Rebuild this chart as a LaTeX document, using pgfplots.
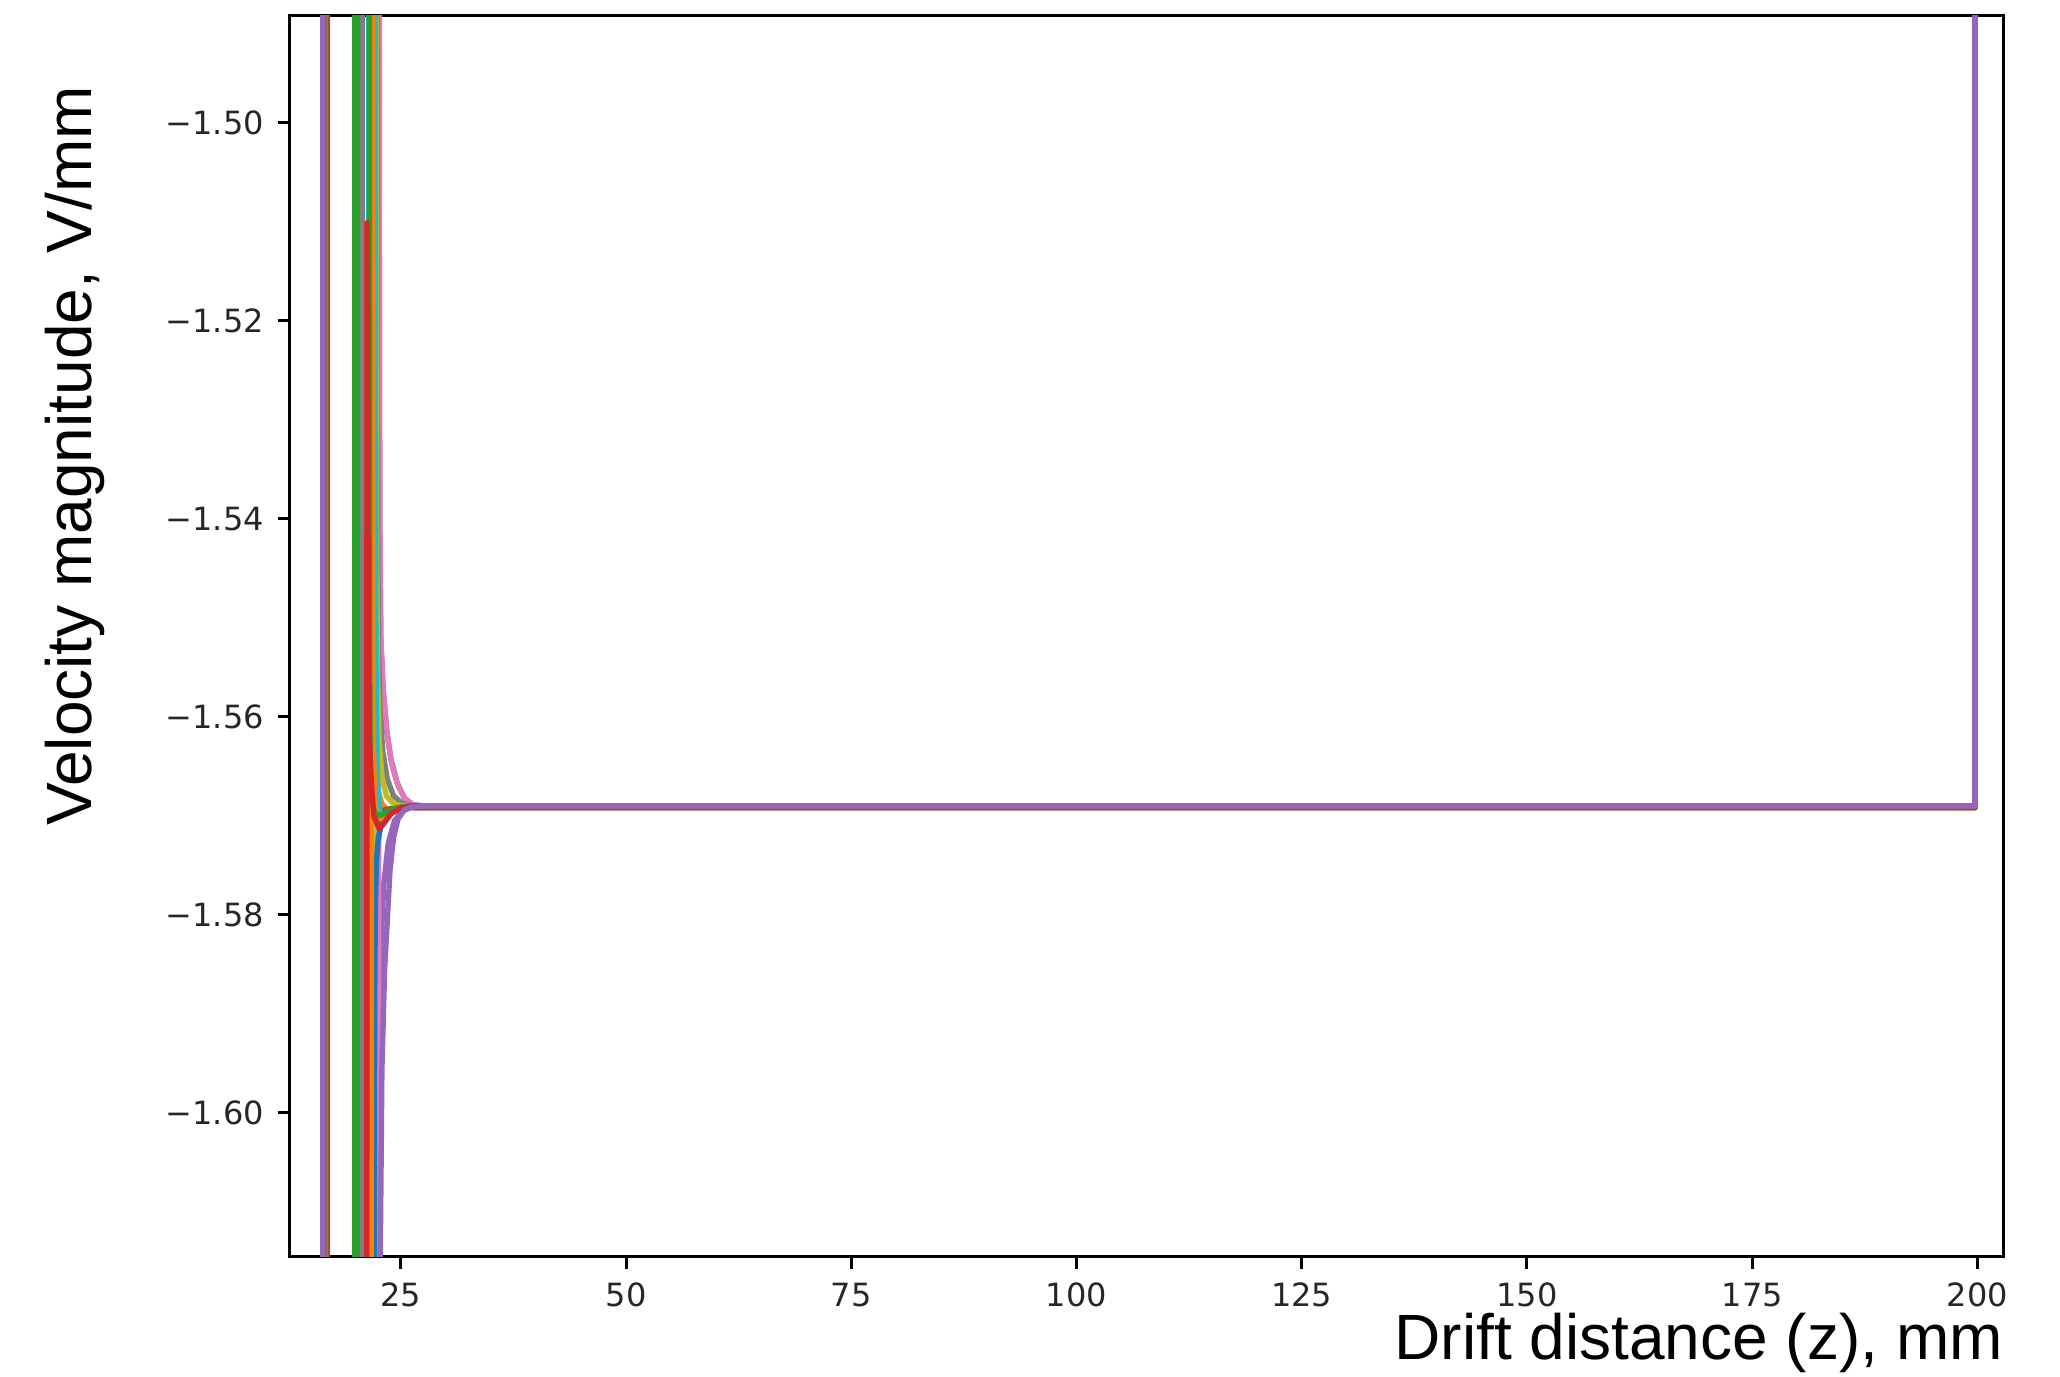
\documentclass[border=0pt]{standalone}
\usepackage{fontspec}
\setmainfont{Liberation Sans}
\newfontfamily\tickfont{DejaVu Sans}
\usepackage{pgfplots}
\pgfplotsset{compat=1.18}
\definecolor{C0}{HTML}{1F77B4}
\definecolor{C1}{HTML}{FF7F0E}
\definecolor{C2}{HTML}{2CA02C}
\definecolor{C3}{HTML}{D62728}
\definecolor{C4}{HTML}{9467BD}
\definecolor{C5}{HTML}{8C564B}
\definecolor{C6}{HTML}{E377C2}
\definecolor{C7}{HTML}{7F7F7F}
\definecolor{C8}{HTML}{BCBD22}
\definecolor{C9}{HTML}{17BECF}
\begin{document}
\begin{tikzpicture}
\path[use as bounding box] (-72.5pt,-30pt) rectangle (442.5pt,314.25pt);
\begin{axis}[
  at={(0,0)}, anchor=south west, scale only axis,
  width=428.4pt, height=310.25pt,
  xmin=12.7, xmax=202.9, ymin=-1.61457, ymax=-1.4892,
  xtick={25,50,75,100,125,150,175,200},
  xticklabels={25,50,75,100,125,150,175,200},
  ytick={-1.60,-1.58,-1.56,-1.54,-1.52,-1.50},
  yticklabels={−1.60,−1.58,−1.56,−1.54,−1.52,−1.50},
  tick align=outside, tick pos=left, major tick length=3pt,
  tick style={black, line width=0.75pt},
  axis line style={black, line width=0.75pt},
  ticklabel style={font=\tickfont\fontsize{8}{9.5}\selectfont, text=black!85},
  every axis plot/.append style={line width=1.35pt, line join=round},
  clip=true,
]
% s1 blue (from below)
\addplot[C0] coordinates {(16.40,-1.40) (16.40,-1.70) (22.2,-1.70) (22.22,-1.60) (22.26,-1.585) (22.32,-1.577) (22.45,-1.5728) (22.7,-1.5712) (23.2,-1.5700) (24.0,-1.5694) (25.2,-1.5691) (26.5,-1.5690) (199.7,-1.5690) (199.7,-1.40)};
% s2 orange (from above)
\addplot[C1] coordinates {(16.45,-1.40) (16.45,-1.70) (20.55,-1.70) (20.55,-1.40) (22.0,-1.40) (22.02,-1.50) (22.06,-1.545) (22.12,-1.558) (22.25,-1.5645) (22.5,-1.5675) (22.9,-1.5688) (23.5,-1.5694) (24.5,-1.5693) (26.0,-1.5690) (199.7,-1.5690) (199.7,-1.40)};
% s3 green
\addplot[C2] coordinates {(16.45,-1.40) (16.45,-1.70) (19.9,-1.70) (19.9,-1.40) (22.5,-1.40) (22.55,-1.50) (22.62,-1.540) (22.75,-1.552) (23.0,-1.5570) (23.4,-1.5612) (23.9,-1.5643) (24.6,-1.5667) (25.4,-1.5682) (26.3,-1.5689) (27.5,-1.5690) (199.7,-1.5690) (199.7,-1.40)};
% s4 red (low peak)
\addplot[C3] coordinates {(16.45,-1.40) (16.45,-1.70) (20.95,-1.70) (21.0,-1.535) (21.08,-1.545) (21.18,-1.556) (21.3,-1.562) (21.6,-1.5685) (22.0,-1.5705) (22.5,-1.5712) (23.0,-1.5708) (23.8,-1.5698) (25.0,-1.5692) (26.5,-1.5690) (199.7,-1.5690) (199.7,-1.40)};
% s5 purple (from below)
\addplot[C4] coordinates {(16.40,-1.40) (16.40,-1.70) (22.4,-1.70) (22.45,-1.61) (22.55,-1.595) (22.75,-1.584) (23.1,-1.5770) (23.6,-1.5728) (24.3,-1.5705) (25.2,-1.5695) (26.3,-1.5691) (27.5,-1.5690) (199.7,-1.5690) (199.7,-1.40)};
% s6 brown
\addplot[C5] coordinates {(16.85,-1.40) (16.85,-1.70) (20.35,-1.70) (20.35,-1.40) (21.6,-1.40) (21.62,-1.50) (21.65,-1.55) (21.7,-1.562) (21.85,-1.5672) (22.2,-1.5690) (22.8,-1.5695) (23.8,-1.5693) (25.0,-1.5691) (26.5,-1.5692) (199.75,-1.5692) (199.75,-1.40)};
% s7 pink
\addplot[C6] coordinates {(16.45,-1.40) (16.45,-1.70) (22.55,-1.70) (22.55,-1.40) (22.6,-1.40) (22.62,-1.50) (22.68,-1.54) (22.8,-1.552) (23.05,-1.5572) (23.5,-1.5618) (24.0,-1.5648) (24.7,-1.5670) (25.5,-1.5683) (26.4,-1.5689) (27.6,-1.5690) (199.75,-1.5690) (199.75,-1.40)};
% s8 gray
\addplot[C7] coordinates {(16.6,-1.40) (16.6,-1.70) (20.75,-1.70) (20.75,-1.40) (22.35,-1.40) (22.38,-1.50) (22.43,-1.54) (22.52,-1.553) (22.7,-1.5595) (23.0,-1.5635) (23.5,-1.5663) (24.2,-1.5680) (25.2,-1.5688) (26.5,-1.5690) (199.7,-1.5690) (199.7,-1.40)};
% s9 olive
\addplot[C8] coordinates {(16.45,-1.40) (16.45,-1.70) (21.95,-1.70) (21.95,-1.40) (22.25,-1.40) (22.28,-1.50) (22.33,-1.545) (22.42,-1.556) (22.6,-1.5625) (22.9,-1.5660) (23.4,-1.5680) (24.2,-1.5688) (25.3,-1.5690) (199.7,-1.5690) (199.7,-1.40)};
% s10 cyan
\addplot[C9] coordinates {(16.45,-1.40) (16.45,-1.70) (21.45,-1.70) (21.45,-1.40) (22.15,-1.40) (22.17,-1.50) (22.21,-1.548) (22.28,-1.560) (22.4,-1.5665) (22.6,-1.5692) (22.9,-1.5703) (23.4,-1.5700) (24.3,-1.5694) (25.5,-1.5691) (26.5,-1.5690) (199.7,-1.5690) (199.7,-1.40)};
% s11 blue (from below)
\addplot[C0] coordinates {(16.4,-1.40) (16.4,-1.70) (22.05,-1.70) (22.07,-1.60) (22.12,-1.585) (22.2,-1.578) (22.3,-1.5745) (22.5,-1.5722) (22.9,-1.5707) (23.6,-1.5697) (24.8,-1.5692) (26.3,-1.5690) (199.7,-1.5690) (199.7,-1.40)};
% s12 orange
\addplot[C1] coordinates {(16.45,-1.40) (16.45,-1.70) (21.7,-1.70) (21.7,-1.40) (21.85,-1.40) (21.87,-1.50) (21.9,-1.55) (21.96,-1.563) (22.1,-1.5685) (22.35,-1.5702) (22.8,-1.5703) (23.5,-1.5697) (24.6,-1.5692) (26.0,-1.5690) (199.7,-1.5690) (199.7,-1.40)};
% s13 green
\addplot[C2] coordinates {(16.45,-1.40) (16.45,-1.70) (20.15,-1.70) (20.15,-1.40) (21.5,-1.40) (21.52,-1.50) (21.55,-1.555) (21.6,-1.565) (21.75,-1.5685) (22.1,-1.5697) (22.6,-1.5700) (23.4,-1.5697) (24.5,-1.5692) (26.0,-1.5690) (199.7,-1.5690) (199.7,-1.40)};
% s14 red (high peak)
\addplot[C3] coordinates {(16.45,-1.40) (16.45,-1.70) (21.2,-1.70) (21.25,-1.5101) (21.32,-1.52) (21.38,-1.55) (21.5,-1.562) (21.7,-1.566) (22.0,-1.5700) (22.6,-1.5713) (23.1,-1.5708) (23.9,-1.5698) (25.0,-1.5692) (26.5,-1.5690) (199.7,-1.5690) (199.7,-1.40)};
% s15 purple (from below, on top)
\addplot[C4] coordinates {(16.35,-1.40) (16.35,-1.70) (22.7,-1.70) (22.72,-1.6146) (22.9,-1.5957) (23.2,-1.5856) (23.8,-1.5755) (24.2,-1.5722) (24.7,-1.5703) (25.4,-1.5694) (26.3,-1.5691) (27.5,-1.5690) (199.7,-1.5690) (199.7,-1.40)};
\end{axis}
\node[anchor=base east, inner sep=0pt, font=\fontsize{16}{19}\selectfont] at (428.4pt,-25.75pt) {Drift distance (z), mm};
\node[rotate=90, anchor=base, font=\fontsize{16}{19}\selectfont] at (-49.5pt,200.25pt) {Velocity magnitude, V/mm};
\end{tikzpicture}
\end{document}
